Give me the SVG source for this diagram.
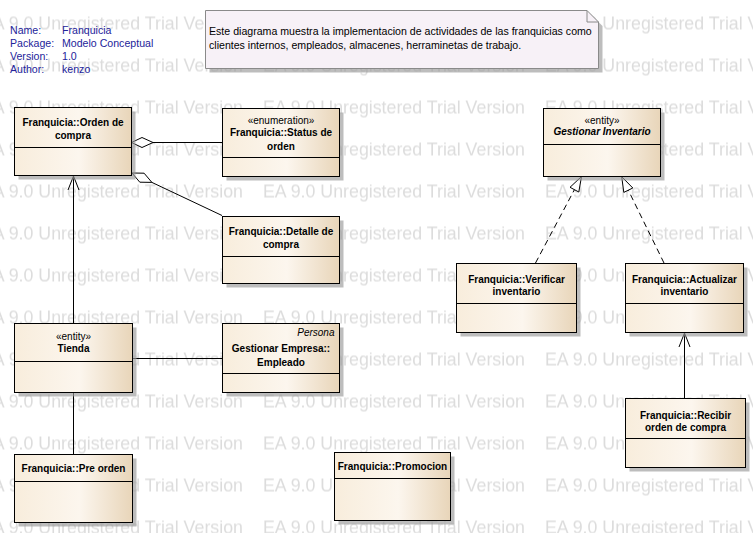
<svg xmlns="http://www.w3.org/2000/svg" width="753" height="533" viewBox="0 0 753 533">
<defs>
<style>
.wm{font-family:"Liberation Sans",Arial,sans-serif;font-size:17.8px;fill:#dcdcdc}
.box{fill:url(#nodeFill);stroke:#000;stroke-width:1}
.shadow{fill:#9a9a9a;opacity:0.65}
.div{stroke:#000;stroke-width:1}
.t{font-family:"Liberation Sans",Arial,sans-serif;font-size:10px;fill:#000;text-anchor:middle}
.b{font-weight:bold}
.i{font-style:italic}
.meta{font-family:"Liberation Sans",Arial,sans-serif;font-size:10.6px;fill:#23239a}
.nt{font-family:"Liberation Sans",Arial,sans-serif;font-size:10.6px;fill:#000}
.conn{stroke:#000;stroke-width:1;fill:none}
.dash{stroke-dasharray:6 4}
.head{stroke:#000;stroke-width:1;fill:#fff}
</style>
<linearGradient id="nodeFill" x1="0" y1="0" x2="1" y2="0">
<stop offset="0" stop-color="#f8eddc"/>
<stop offset="0.55" stop-color="#fcf6ee"/>
<stop offset="1" stop-color="#e8d5b9"/>
</linearGradient>
<pattern id="wm" patternUnits="userSpaceOnUse" x="-19" y="12.5" width="282" height="42">
<text x="0" y="17" class="wm">EA 9.0 Unregistered Trial Version</text>
</pattern>
</defs>
<rect x="0" y="0" width="753" height="533" fill="#fff"/>
<rect x="0" y="0" width="753" height="533" fill="url(#wm)"/>

<g id="metadata">
<text class="meta" x="10" y="33.5">Name:</text><text class="meta" x="62" y="33.5">Franquicia</text>
<text class="meta" x="10" y="46.5">Package:</text><text class="meta" x="62" y="46.5">Modelo Conceptual</text>
<text class="meta" x="10" y="59.5">Version:</text><text class="meta" x="62" y="59.5">1.0</text>
<text class="meta" x="10" y="72.5">Author:</text><text class="meta" x="62" y="72.5">kenzo</text>
</g>

<g id="note">
<path d="M209.5,14.5 H591 L602.5,26 V72.5 H209.5 Z" class="shadow"/>
<path d="M205.5,10.5 H587 L598.5,22 V68.5 H205.5 Z" fill="#f7f1f7" stroke="#8a8a8a" stroke-width="1"/>
<path d="M587,10.5 V22 H598.5" fill="none" stroke="#8a8a8a" stroke-width="1"/>
<text class="nt" x="209" y="34.5">Este diagrama muestra la implementacion de actividades de las franquicias como</text>
<text class="nt" x="209" y="48.5">clientes internos, empleados, almacenes, herraminetas de trabajo.</text>
</g>

<g id="connectors">
<line class="conn" x1="153" y1="142.5" x2="222" y2="142.5"/>
<polygon class="head" points="131.5,142.5 142,137.5 153,142.5 142,147.5"/>
<line class="conn" x1="151.9" y1="182.4" x2="222" y2="215.5"/>
<polygon class="head" points="132,173 144.1,173.2 151.9,182.4 139.8,182.2"/>
<line class="conn" x1="73.5" y1="323" x2="73.5" y2="176"/>
<polyline class="conn" points="68,190 73.5,176 79,190"/>
<line class="conn" x1="132" y1="358.5" x2="222" y2="358.5"/>
<line class="conn" x1="73.5" y1="392" x2="73.5" y2="454"/>
<line class="conn dash" x1="535.5" y1="263" x2="574.4" y2="189.7"/>
<polygon class="head" points="581.5,176.5 578.8,192 570,187.3"/>
<line class="conn dash" x1="664" y1="263" x2="628.3" y2="190.2"/>
<polygon class="head" points="621.7,176.7 632.8,188 623.8,192.4"/>
<line class="conn" x1="684.5" y1="398" x2="684.5" y2="333"/>
<polyline class="conn" points="679,347 684.5,333 690,347"/>
</g>

<g id="orden-compra">
<rect class="shadow" x="18.5" y="111.5" width="117" height="68"/>
<rect class="box" x="14.5" y="107.5" width="117" height="68"/>
<line class="div" x1="14.5" y1="147.5" x2="131.5" y2="147.5"/>
<text class="t b" x="73" y="126">Franquicia::Orden de</text>
<text class="t b" x="73" y="139">compra</text>
</g>

<g id="status-orden">
<rect class="shadow" x="226.5" y="112.5" width="117" height="68"/>
<rect class="box" x="222.5" y="108.5" width="117" height="68"/>
<line class="div" x1="222.5" y1="157.5" x2="339.5" y2="157.5"/>
<text class="t" x="281" y="123.5">«enumeration»</text>
<text class="t b" x="281" y="136">Franquicia::Status de</text>
<text class="t b" x="281" y="149.5">orden</text>
</g>

<g id="detalle-compra">
<rect class="shadow" x="226.5" y="220.5" width="117" height="67"/>
<rect class="box" x="222.5" y="216.5" width="117" height="67"/>
<line class="div" x1="222.5" y1="256.5" x2="339.5" y2="256.5"/>
<text class="t b" x="281" y="235">Franquicia::Detalle de</text>
<text class="t b" x="281" y="248">compra</text>
</g>

<g id="tienda">
<rect class="shadow" x="18.5" y="327.5" width="118" height="69"/>
<rect class="box" x="14.5" y="323.5" width="118" height="69"/>
<line class="div" x1="14.5" y1="361.5" x2="132.5" y2="361.5"/>
<text class="t" x="73.5" y="339.5">«entity»</text>
<text class="t b" x="73.5" y="352">Tienda</text>
</g>

<g id="empleado">
<rect class="shadow" x="226.5" y="327.5" width="117" height="69"/>
<rect class="box" x="222.5" y="323.5" width="117" height="69"/>
<line class="div" x1="222.5" y1="373.5" x2="339.5" y2="373.5"/>
<text class="t i" x="334.5" y="336" style="text-anchor:end">Persona</text>
<text class="t b" x="281" y="352">Gestionar Empresa::</text>
<text class="t b" x="281" y="365.5">Empleado</text>
</g>

<g id="pre-orden">
<rect class="shadow" x="18.5" y="458.5" width="118" height="68"/>
<rect class="box" x="14.5" y="454.5" width="118" height="68"/>
<line class="div" x1="14.5" y1="481.5" x2="132.5" y2="481.5"/>
<text class="t b" x="73.5" y="472">Franquicia::Pre orden</text>
</g>

<g id="promocion">
<rect class="shadow" x="338.5" y="456.5" width="116" height="68"/>
<rect class="box" x="334.5" y="452.5" width="116" height="68"/>
<line class="div" x1="334.5" y1="478.5" x2="450.5" y2="478.5"/>
<text class="t b" x="392.5" y="470">Franquicia::Promocion</text>
</g>

<g id="gestionar-inventario">
<rect class="shadow" x="547.5" y="112.5" width="117" height="68"/>
<rect class="box" x="543.5" y="108.5" width="117" height="68"/>
<line class="div" x1="543.5" y1="144.5" x2="660.5" y2="144.5"/>
<text class="t" x="602" y="123.5">«entity»</text>
<text class="t b i" x="602" y="135">Gestionar Inventario</text>
</g>

<g id="verificar-inventario">
<rect class="shadow" x="460.5" y="267.5" width="120" height="69"/>
<rect class="box" x="456.5" y="263.5" width="120" height="69"/>
<line class="div" x1="456.5" y1="303.5" x2="576.5" y2="303.5"/>
<text class="t b" x="516.5" y="282.5">Franquicia::Verificar</text>
<text class="t b" x="516.5" y="295">inventario</text>
</g>

<g id="actualizar-inventario">
<rect class="shadow" x="629.5" y="267.5" width="118" height="69"/>
<rect class="box" x="625.5" y="263.5" width="118" height="69"/>
<line class="div" x1="625.5" y1="303.5" x2="743.5" y2="303.5"/>
<text class="t b" x="684.5" y="282.5">Franquicia::Actualizar</text>
<text class="t b" x="684.5" y="295">inventario</text>
</g>

<g id="recibir-orden">
<rect class="shadow" x="629.5" y="402.5" width="120" height="69"/>
<rect class="box" x="625.5" y="398.5" width="120" height="69"/>
<line class="div" x1="625.5" y1="438.5" x2="745.5" y2="438.5"/>
<text class="t b" x="685.5" y="418.5">Franquicia::Recibir</text>
<text class="t b" x="685.5" y="431">orden de compra</text>
</g>
</svg>
